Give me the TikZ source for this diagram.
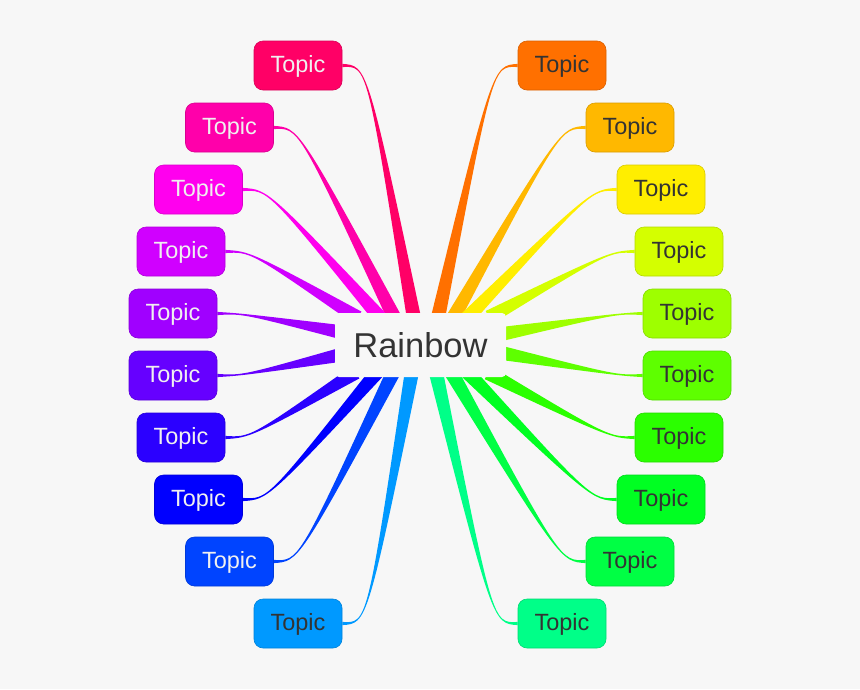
\documentclass[tikz,border=0pt]{standalone}
\usepackage{fontspec}
\setmainfont{Liberation Sans}
\usepackage{tikz}
\usetikzlibrary{calc}

\definecolor{fondo}{HTML}{F7F7F7}
\definecolor{textoOscuro}{HTML}{333333}
\definecolor{textoClaro}{HTML}{F0F0F0}

\pgfdeclarelayer{ramas}
\pgfsetlayers{ramas,main}

\tikzset{
  tema/.style={rectangle, rounded corners=9pt, minimum width=88pt, minimum height=49pt, inner sep=0pt, line width=0.6pt, text depth=3pt, font=\fontsize{23.5}{28}\selectfont},
  central/.style={rectangle, rounded corners=4pt, minimum width=171pt, minimum height=64pt, fill=fondo, text=textoOscuro, font=\fontsize{34.5}{40}\selectfont}
}

% Rama afilada: color, punto de salida, avance del control, punto final
\newcommand{\rama}[4]{
    \coordinate (ctrl) at ($(#2)+(#3,0)$);
    \coordinate (fin) at ($(#4)!-9pt!(ctrl)$);
    \fill[#1] ($(#2)!1.6pt!90:(ctrl)$) .. controls (ctrl) .. ($(fin)!7.2pt!-90:(ctrl)$)
        -- ($(fin)!7.2pt!90:(ctrl)$) .. controls (ctrl) .. ($(#2)!1.6pt!-90:(ctrl)$) -- cycle;
}

\begin{document}
\begin{tikzpicture}[x=1pt, y=-1pt]
        % Fondo
        \begin{pgfonlayer}{ramas}
            \fill[fondo] (0,0) rectangle (860,689);
        \end{pgfonlayer}
        \useasboundingbox (0,0) rectangle (860,689);

        % Nodo central
        \node[central] (rainbow) at (420.5,345) {Rainbow};

        % Temas del lado izquierdo
        \foreach \i/\x/\col/\txt/\ex/\ey in {
            1/298/FF0066/textoClaro/413/313, 2/229.5/FF00AA/textoClaro/392/313,
            3/198.5/FF00EE/textoClaro/376/313, 4/181/D000FF/textoClaro/350/313,
            5/173/A000FF/textoClaro/335/331, 6/173/6600FF/textoClaro/335/356,
            7/181/2B00FF/textoClaro/348/377, 8/198.5/0000FF/textoClaro/373/377,
            9/229.5/0044FF/textoClaro/391/377, 10/298/0099FF/textoOscuro/411/377
        } {
            \definecolor{tmp}{HTML}{\col}
            \node[tema, fill=tmp, draw=tmp!85!black, text=\txt] (L\i) at (\x,{65.5+62*(\i-1)}) {Topic};
            \coordinate (eL\i) at (\ex,\ey);
            \begin{pgfonlayer}{ramas}
                \rama{tmp}{L\i.east}{25}{eL\i}
            \end{pgfonlayer}
        }

        % Temas del lado derecho
        \foreach \i/\x/\col/\txt/\ex/\ey in {
            1/562/FF7000/textoOscuro/439/313, 2/630/FFB800/textoOscuro/456/313,
            3/661/FFEE00/textoOscuro/472/313, 4/679/D4FF00/textoOscuro/497/313,
            5/687/9EFF00/textoOscuro/507/333, 6/687/5EFF00/textoOscuro/507/354,
            7/679/2BFF00/textoOscuro/496/377, 8/661/00FF22/textoOscuro/472/377,
            9/630/00FF44/textoOscuro/454/377, 10/562/00FF88/textoOscuro/437/377
        } {
            \definecolor{tmp}{HTML}{\col}
            \node[tema, fill=tmp, draw=tmp!85!black, text=\txt] (R\i) at (\x,{65.5+62*(\i-1)}) {Topic};
            \coordinate (eR\i) at (\ex,\ey);
            \begin{pgfonlayer}{ramas}
                \rama{tmp}{R\i.west}{-25}{eR\i}
            \end{pgfonlayer}
        }

    \end{tikzpicture}
\end{document}
